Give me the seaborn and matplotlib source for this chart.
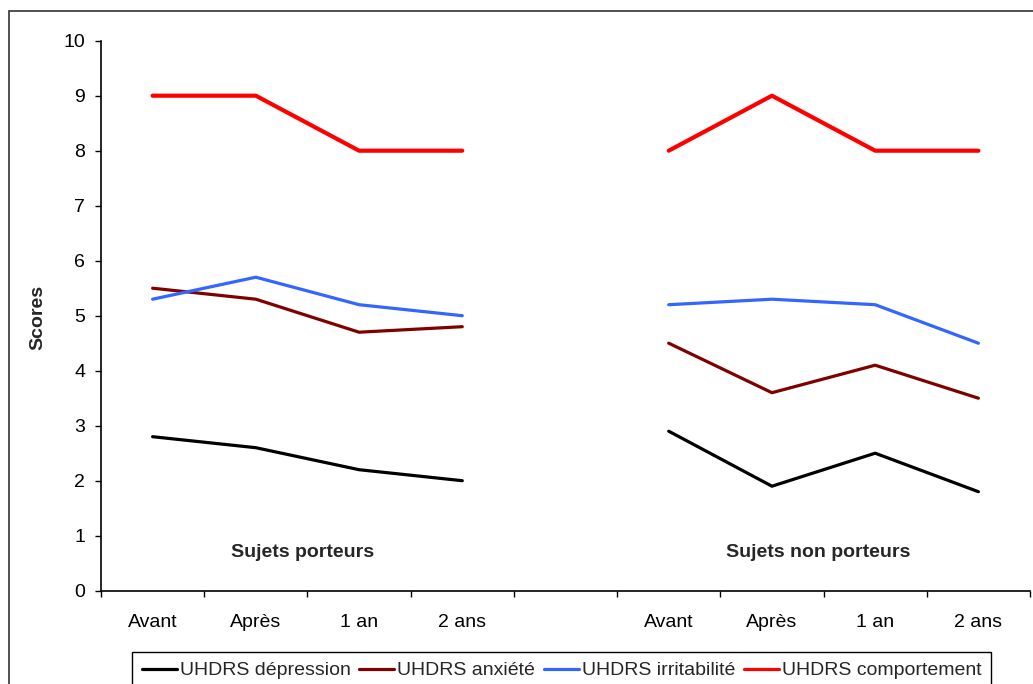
# %%
import seaborn as sns
import pandas as pd
import matplotlib.pyplot as plt
from matplotlib.colors import to_hex
from matplotlib.patches import Rectangle

# %%
periodes = ['Avant', 'Après', '1 an', '2 ans']
groupes = ['Sujets porteurs', 'Sujets non porteurs']
series = ['UHDRS dépression', 'UHDRS anxiété', 'UHDRS irritabilité', 'UHDRS comportement']

# 4 points porteurs puis 4 points non porteurs
depression = [2.8, 2.6, 2.2, 2.0, 2.9, 1.9, 2.5, 1.8]
anxiete = [5.5, 5.3, 4.7, 4.8, 4.5, 3.6, 4.1, 3.5]
irritabilite = [5.3, 5.7, 5.2, 5.0, 5.2, 5.3, 5.2, 4.5]
comportement = [9, 9, 8, 8, 8, 9, 8, 8]

couleurs = ['#000000', '#800000', '#3366ff', '#ff0000']
tick_labels = periodes + [''] + periodes

# %%
rows = []
for nom, vals in zip(series, [depression, anxiete, irritabilite, comportement]):
    for i, v in enumerate(vals):
        g = i // 4
        rows.append({'serie': nom, 'groupe': groupes[g], 'pos': g * 5 + i % 4, 'score': v})
df = pd.DataFrame(rows)

# %%
sns.set_style('ticks')
plt.rcParams['font.family'] = ['Liberation Sans', 'DejaVu Sans']

fig = plt.figure(figsize=(10.33, 6.84), dpi=100)
ax = fig.add_axes([101 / 1033, 1 - 590.7 / 684, 929 / 1033, 550 / 684])

sns.lineplot(data=df, x='pos', y='score', hue='serie', hue_order=series, units='groupe',
             estimator=None, sort=False, palette=couleurs, linewidth=2.3, ax=ax)

for line in ax.lines:
    if to_hex(line.get_color()) == '#ff0000':
        line.set_linewidth(3.0)

ax.set_xlim(-0.5, 8.5)
ax.set_ylim(0, 10)
ax.set_xticks([i - 0.5 for i in range(10)])
ax.set_xticklabels([])
ax.set_xticks(range(9), minor=True)
ax.set_xticklabels(tick_labels, minor=True)
ax.set_yticks(range(11))
ax.tick_params(axis='both', which='major', direction='out', length=4.3, width=1, color='black',
               labelsize=14, labelcolor='black')
ax.tick_params(axis='x', which='minor', length=0, pad=17, labelsize=14, labelcolor='black')
ax.tick_params(axis='y', pad=7)
ax.set_xlabel('')
ax.set_ylabel('')
sns.despine(ax=ax)
for s in ['left', 'bottom']:
    ax.spines[s].set_color('black')
    ax.spines[s].set_linewidth(1.2)

ax.text(1.45, 0.69, groupes[0], ha='center', va='center', fontsize=14, fontweight='bold')
ax.text(6.45, 0.69, groupes[1], ha='center', va='center', fontsize=14, fontweight='bold')
fig.text(38 / 1033, 1 - 317 / 684, 'Scores', rotation=90, ha='center', va='center',
         fontsize=14, fontweight='bold')

sns.move_legend(ax, 'upper center', bbox_to_anchor=(0.4957, -0.1115), ncol=4, title=None,
                frameon=True, fancybox=False, framealpha=1, edgecolor='black', fontsize=14,
                borderpad=0.5, handlelength=1.8, handletextpad=0.15, columnspacing=0.45,
                borderaxespad=0)
ax.get_legend().get_frame().set_linewidth(1.0)

fig.add_artist(Rectangle((8.5 / 1033, -0.5), 2, (684 - 11) / 684 + 0.5, transform=fig.transFigure,
                         fill=False, edgecolor='#333333', linewidth=1.2))

fig.savefig('out.png', dpi=100)
